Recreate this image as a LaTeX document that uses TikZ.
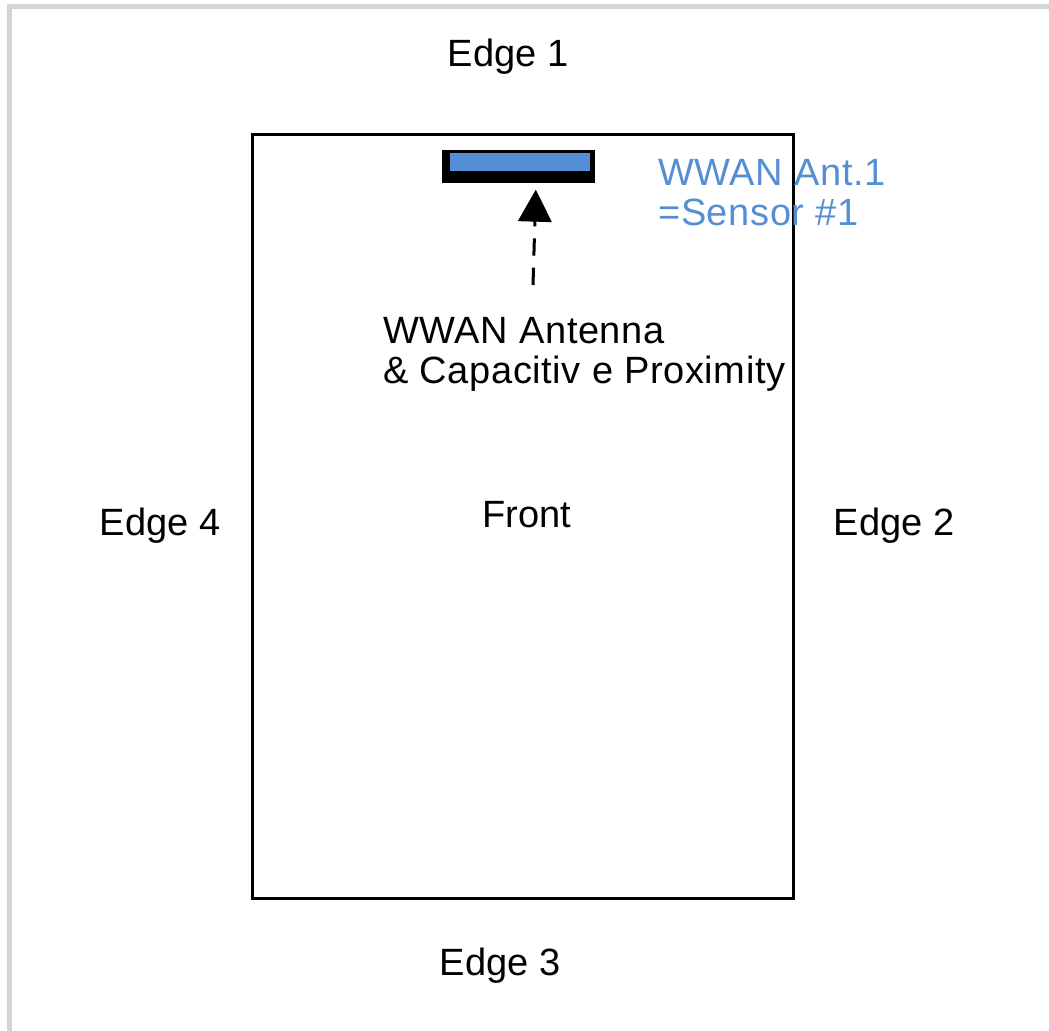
\documentclass[tikz,border=0pt]{standalone}
\usepackage{fontspec}
\setmainfont{Liberation Sans}
\newfontfamily\spacedfont[LetterSpace=1.6]{Liberation Sans}
\usetikzlibrary{arrows.meta}
\definecolor{antblue}{HTML}{558ED5}
\definecolor{framegray}{HTML}{D4D4D4}
\tikzset{
	lbl/.style={anchor=base west, inner sep=0pt, font=\fontsize{28.5}{30}\selectfont},
	spaced/.style={lbl, font=\fontsize{28.5}{30}\spacedfont},
	edgelbl/.style={lbl, anchor=base}
}
\begin{document}
\begin{tikzpicture}[x=0.75pt, y=-0.75pt]
		\useasboundingbox (0,0) rectangle (1049,1031);
		% page frame
		\fill[framegray] (7,4) rectangle (1049,9);
		\fill[framegray] (7,4) rectangle (12,1031);

		% board outline
		\draw[line width=2.25pt] (252,134) rectangle (793,898);

		% antenna
		\fill[black] (442,150) rectangle (595,183);
		\fill[antblue] (450,153) rectangle (590,171);
		\coordinate (ant) at (536,183);
		\coordinate (tail) at (533,285);
		\draw[line width=2.25pt, dash pattern=on 13pt off 9pt, -{Triangle[length=24pt, width=25pt]}, shorten >=5pt] (tail) -- (ant);

		\node[edgelbl] (e1) at (508,67) {Edge 1};
		\node[edgelbl] (e2) at (894,535) {Edge 2};
		\node[edgelbl] (e3) at (500,975) {Edge 3};
		\node[edgelbl] (e4) at (160,535) {Edge 4};
		\node[edgelbl] (front) at (527,527) {Front};

		\node[spaced] (wwan) at (383,343) {WWAN Antenna};
		\node[spaced] (prox) at (383,383) {\& Capacitiv e Proximity};
		\node[spaced, text=antblue] (ant1) at (658,185) {WWAN Ant.1};
		\node[spaced, text=antblue] (sens) at (658,225) {=Sensor \#1};
	\end{tikzpicture}
\end{document}
